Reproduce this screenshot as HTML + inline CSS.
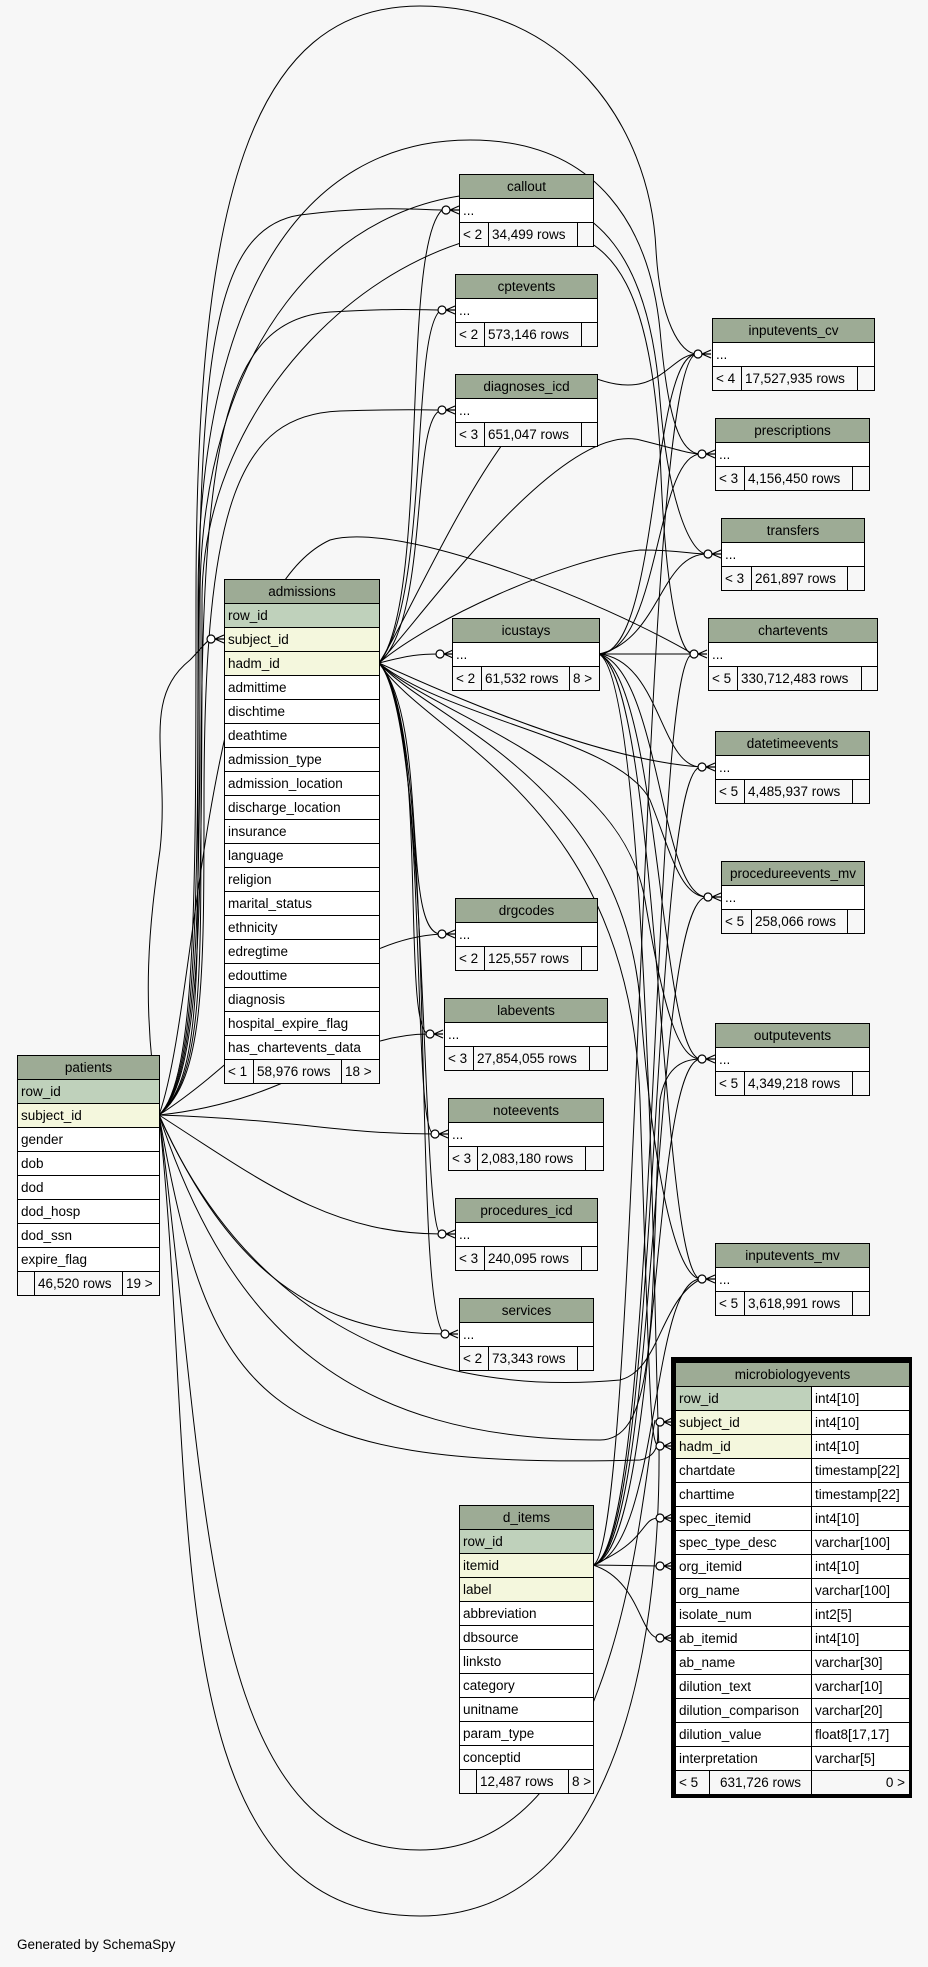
<!DOCTYPE html>
<html><head><meta charset="utf-8">
<style>
body{margin:0;background:#f7f7f7;}
#c{position:relative;width:928px;height:1967px;overflow:hidden;background:#f7f7f7;font-family:"Liberation Sans",sans-serif;font-size:13.5px;color:#000}
svg{position:absolute;left:0;top:0}
.t{position:absolute;background:#fff;border:1px solid #000;border-bottom:none;box-sizing:border-box}
.r{height:23px;line-height:23px;border-bottom:1px solid #000;padding-left:3px;white-space:nowrap;overflow:hidden}
.h{background:#9dab95;text-align:center;padding:0}
.p{background:#bfd1bb}.k{background:#f4f7dd}
.f{display:flex;padding:0;background:#f7f7f7}
.f span{border-right:1px solid #000;padding:0 3px;box-sizing:border-box;overflow:hidden}
.f span:last-child{border-right:none;flex:1}
.m .r{display:flex;padding:0}
.m .r span{padding-left:3px;box-sizing:border-box}
.m .r span:first-child{width:136px;border-right:1px solid #000}
.m .r span:last-child{flex:1}
#g{position:absolute;left:17px;top:1937px;font-size:13.5px}
</style></head><body><div id="c">
<svg width="928" height="1967" fill="none" stroke="#000" stroke-width="1">
<!-- patients -> admissions.subject_id -->
<path d="M159,1115 C140,1000 150,920 160,850 C170,760 140,700 190,660 C200,650 205,642 211,639"/>
<!-- patients -> middle column (via bundle x~200) -->
<path d="M159,1115 C200,1080 198,980 198,800 C198,400 200,230 300,215 C380,205 420,210 442,210"/>
<path d="M159,1115 C202,1080 201,980 201,800 C201,450 220,320 330,312 C400,308 420,310 441,310"/>
<path d="M159,1115 C204,1080 204,980 204,800 C204,500 240,415 340,411 C400,409 420,410 441,410"/>
<path d="M159,1115 C260,1050 330,940 441,934"/>
<path d="M159,1115 C300,1100 340,1034 429,1034"/>
<path d="M159,1115 C300,1120 340,1134 434,1134"/>
<path d="M159,1115 C260,1180 330,1234 441,1234"/>
<path d="M159,1115 C220,1250 300,1334 444,1334"/>
<!-- patients loops over top -->
<path d="M159,1115 C196,1080 196,900 196,600 C196,200 250,6 420,6 C560,6 650,120 656,250 C660,320 680,354 697,354"/>
<path d="M159,1115 C198,1080 198,900 198,600 C198,300 300,140 470,140 C600,140 650,230 660,330 C668,420 680,454 701,454"/>
<path d="M159,1115 C200,1080 200,900 200,600 C200,350 330,193 500,193 C600,193 650,260 660,400 C668,500 690,554 707,554"/>
<path d="M159,1115 C202,1080 202,900 202,600 C202,400 380,230 540,230 C620,230 650,300 660,450 C665,600 680,654 693,654"/>
<!-- patients loops to right lower tables -->
<path d="M159,1115 C240,1300 400,1400 620,1380 C660,1370 660,1300 701,1279"/>
<path d="M159,1115 C230,1330 350,1440 600,1440 C660,1440 650,1300 660,1100 C665,1070 680,1059 701,1059"/>
<path d="M159,1115 C210,1400 260,1470 640,1460 C665,1455 655,1430 659,1422"/>
<path d="M159,1115 C200,1500 150,1916 420,1916 C650,1916 660,1550 659,1446"/>
<path d="M159,1115 C210,1500 200,1850 420,1850 C620,1850 640,1500 655,1420"/>
<path d="M159,1115 C200,1000 200,600 330,540 C400,520 600,600 693,654"/>
<!-- admissions.hadm_id -> middle -->
<path d="M379,663 C430,600 400,250 442,210"/>
<path d="M379,663 C430,600 410,330 441,310"/>
<path d="M379,663 C430,620 410,420 441,410"/>
<path d="M379,663 C410,655 420,654 439,654"/>
<path d="M379,663 C430,720 400,934 441,934"/>
<path d="M379,663 C430,720 400,1034 429,1034"/>
<path d="M379,663 C430,720 410,1134 434,1134"/>
<path d="M379,663 C430,720 420,1234 441,1234"/>
<path d="M379,663 C440,720 410,1300 444,1334"/>
<!-- admissions -> right column -->
<path d="M379,663 C460,700 600,760 701,767"/>
<path d="M379,663 C450,720 620,740 650,800 C670,850 680,897 707,897"/>
<path d="M379,663 C440,720 620,760 645,900 C665,1020 680,1059 701,1059"/>
<path d="M379,663 C430,720 620,780 640,1000 C655,1200 680,1279 701,1279"/>
<path d="M379,663 C420,600 520,350 600,380 C660,400 670,354 697,354"/>
<path d="M379,663 C420,620 560,420 640,440 C680,450 690,454 701,454"/>
<path d="M379,663 C430,620 560,560 640,550 C680,550 690,554 707,554"/>
<path d="M379,663 C430,740 630,800 640,1100 C650,1400 650,1446 659,1446"/>
<!-- icustays -> right -->
<path d="M599,654 C660,654 650,354 697,354"/>
<path d="M599,654 C660,650 655,454 701,454"/>
<path d="M599,654 C660,640 660,554 707,554"/>
<path d="M599,654 L693,654"/>
<path d="M599,654 C660,660 660,767 701,767"/>
<path d="M599,654 C660,670 660,897 707,897"/>
<path d="M599,654 C660,680 660,1059 701,1059"/>
<path d="M599,654 C660,680 660,1279 701,1279"/>
<path d="M599,654 C650,680 655,1400 659,1446"/>
<!-- d_items.itemid -->
<path d="M593,1565 C660,1550 650,654 693,654"/>
<path d="M593,1565 C660,1550 650,767 701,767"/>
<path d="M593,1565 C660,1550 650,897 707,897"/>
<path d="M593,1565 C660,1550 650,1059 701,1059"/>
<path d="M593,1565 C660,1550 650,1279 701,1279"/>
<path d="M593,1565 C640,1550 640,354 697,354"/>
<path d="M593,1565 C650,1540 640,1518 659,1518"/>
<path d="M593,1565 L659,1566"/>
<path d="M593,1565 C640,1580 640,1638 659,1638"/>
</svg>
<svg width="928" height="1967" stroke="#000" stroke-width="1.2">
<g fill="#fff">
<circle cx="446" cy="210" r="4"/><circle cx="442" cy="310" r="4"/><circle cx="442" cy="410" r="4"/>
<circle cx="440" cy="654" r="4"/><circle cx="442" cy="934" r="4"/><circle cx="430" cy="1034" r="4"/>
<circle cx="435" cy="1134" r="4"/><circle cx="442" cy="1234" r="4"/><circle cx="445" cy="1334" r="4"/>
<circle cx="698" cy="354" r="4"/><circle cx="702" cy="454" r="4"/><circle cx="708" cy="554" r="4"/>
<circle cx="694" cy="654" r="4"/><circle cx="702" cy="767" r="4"/><circle cx="708" cy="897" r="4"/>
<circle cx="702" cy="1059" r="4"/><circle cx="702" cy="1279" r="4"/><circle cx="211" cy="639" r="4"/>
<circle cx="660" cy="1422" r="4"/><circle cx="660" cy="1446" r="4"/><circle cx="660" cy="1518" r="4"/>
<circle cx="660" cy="1566" r="4"/><circle cx="660" cy="1638" r="4"/>
</g>
<g fill="none">
<path d="M450,210 L459,206 M450,210 L459,210 M450,210 L459,214"/>
<path d="M446,310 L455,306 M446,310 L455,310 M446,310 L455,314"/>
<path d="M446,410 L455,406 M446,410 L455,410 M446,410 L455,414"/>
<path d="M444,654 L453,650 M444,654 L453,654 M444,654 L453,658"/>
<path d="M446,934 L455,930 M446,934 L455,934 M446,934 L455,938"/>
<path d="M434,1034 L443,1030 M434,1034 L443,1034 M434,1034 L443,1038"/>
<path d="M439,1134 L448,1130 M439,1134 L448,1134 M439,1134 L448,1138"/>
<path d="M446,1234 L455,1230 M446,1234 L455,1234 M446,1234 L455,1238"/>
<path d="M449,1334 L458,1330 M449,1334 L458,1334 M449,1334 L458,1338"/>
<path d="M702,354 L711,350 M702,354 L711,354 M702,354 L711,358"/>
<path d="M706,454 L715,450 M706,454 L715,454 M706,454 L715,458"/>
<path d="M712,554 L721,550 M712,554 L721,554 M712,554 L721,558"/>
<path d="M698,654 L707,650 M698,654 L707,654 M698,654 L707,658"/>
<path d="M706,767 L715,763 M706,767 L715,767 M706,767 L715,771"/>
<path d="M712,897 L721,893 M712,897 L721,897 M712,897 L721,901"/>
<path d="M706,1059 L715,1055 M706,1059 L715,1059 M706,1059 L715,1063"/>
<path d="M706,1279 L715,1275 M706,1279 L715,1279 M706,1279 L715,1283"/>
<path d="M215,639 L224,635 M215,639 L224,639 M215,639 L224,643"/>
<path d="M664,1422 L672,1418 M664,1422 L672,1422 M664,1422 L672,1426"/>
<path d="M664,1446 L672,1442 M664,1446 L672,1446 M664,1446 L672,1450"/>
<path d="M664,1518 L672,1514 M664,1518 L672,1518 M664,1518 L672,1522"/>
<path d="M664,1566 L672,1562 M664,1566 L672,1566 M664,1566 L672,1570"/>
<path d="M664,1638 L672,1634 M664,1638 L672,1638 M664,1638 L672,1642"/>
</g>
</svg>

<!-- admissions -->
<div class="t" style="left:224px;top:579px;width:156px">
<div class="r h">admissions</div><div class="r p">row_id</div><div class="r k">subject_id</div><div class="r k">hadm_id</div>
<div class="r">admittime</div><div class="r">dischtime</div><div class="r">deathtime</div><div class="r">admission_type</div><div class="r">admission_location</div><div class="r">discharge_location</div><div class="r">insurance</div><div class="r">language</div><div class="r">religion</div><div class="r">marital_status</div><div class="r">ethnicity</div><div class="r">edregtime</div><div class="r">edouttime</div><div class="r">diagnosis</div><div class="r">hospital_expire_flag</div><div class="r">has_chartevents_data</div>
<div class="r f"><span style="width:29px">&lt; 1</span><span style="width:88px">58,976 rows</span><span>18 &gt;</span></div>
</div>
<!-- patients -->
<div class="t" style="left:17px;top:1055px;width:143px">
<div class="r h">patients</div><div class="r p">row_id</div><div class="r k">subject_id</div><div class="r">gender</div><div class="r">dob</div><div class="r">dod</div><div class="r">dod_hosp</div><div class="r">dod_ssn</div><div class="r">expire_flag</div>
<div class="r f"><span style="width:17px"></span><span style="width:88px">46,520 rows</span><span>19 &gt;</span></div>
</div>
<!-- d_items -->
<div class="t" style="left:459px;top:1505px;width:135px">
<div class="r h">d_items</div><div class="r p">row_id</div><div class="r k">itemid</div><div class="r k">label</div><div class="r">abbreviation</div><div class="r">dbsource</div><div class="r">linksto</div><div class="r">category</div><div class="r">unitname</div><div class="r">param_type</div><div class="r">conceptid</div>
<div class="r f"><span style="width:17px"></span><span style="width:92px">12,487 rows</span><span>8 &gt;</span></div>
</div>
<!-- small tables -->
<div class="t" style="left:459px;top:174px;width:135px"><div class="r h">callout</div><div class="r">...</div><div class="r f"><span style="width:29px">&lt; 2</span><span style="width:89px">34,499 rows</span><span></span></div></div>
<div class="t" style="left:455px;top:274px;width:143px"><div class="r h">cptevents</div><div class="r">...</div><div class="r f"><span style="width:29px">&lt; 2</span><span style="width:97px">573,146 rows</span><span></span></div></div>
<div class="t" style="left:455px;top:374px;width:143px"><div class="r h">diagnoses_icd</div><div class="r">...</div><div class="r f"><span style="width:29px">&lt; 3</span><span style="width:97px">651,047 rows</span><span></span></div></div>
<div class="t" style="left:452px;top:618px;width:148px"><div class="r h">icustays</div><div class="r">...</div><div class="r f"><span style="width:29px">&lt; 2</span><span style="width:88px">61,532 rows</span><span>8 &gt;</span></div></div>
<div class="t" style="left:455px;top:898px;width:143px"><div class="r h">drgcodes</div><div class="r">...</div><div class="r f"><span style="width:29px">&lt; 2</span><span style="width:97px">125,557 rows</span><span></span></div></div>
<div class="t" style="left:444px;top:998px;width:164px"><div class="r h">labevents</div><div class="r">...</div><div class="r f"><span style="width:29px">&lt; 3</span><span style="width:116px">27,854,055 rows</span><span></span></div></div>
<div class="t" style="left:448px;top:1098px;width:156px"><div class="r h">noteevents</div><div class="r">...</div><div class="r f"><span style="width:29px">&lt; 3</span><span style="width:108px">2,083,180 rows</span><span></span></div></div>
<div class="t" style="left:455px;top:1198px;width:143px"><div class="r h">procedures_icd</div><div class="r">...</div><div class="r f"><span style="width:29px">&lt; 3</span><span style="width:97px">240,095 rows</span><span></span></div></div>
<div class="t" style="left:459px;top:1298px;width:135px"><div class="r h">services</div><div class="r">...</div><div class="r f"><span style="width:29px">&lt; 2</span><span style="width:89px">73,343 rows</span><span></span></div></div>
<div class="t" style="left:712px;top:318px;width:163px"><div class="r h">inputevents_cv</div><div class="r">...</div><div class="r f"><span style="width:29px">&lt; 4</span><span style="width:116px">17,527,935 rows</span><span></span></div></div>
<div class="t" style="left:715px;top:418px;width:155px"><div class="r h">prescriptions</div><div class="r">...</div><div class="r f"><span style="width:29px">&lt; 3</span><span style="width:108px">4,156,450 rows</span><span></span></div></div>
<div class="t" style="left:721px;top:518px;width:144px"><div class="r h">transfers</div><div class="r">...</div><div class="r f"><span style="width:30px">&lt; 3</span><span style="width:96px">261,897 rows</span><span></span></div></div>
<div class="t" style="left:708px;top:618px;width:170px"><div class="r h">chartevents</div><div class="r">...</div><div class="r f"><span style="width:29px">&lt; 5</span><span style="width:124px">330,712,483 rows</span><span></span></div></div>
<div class="t" style="left:715px;top:731px;width:155px"><div class="r h">datetimeevents</div><div class="r">...</div><div class="r f"><span style="width:29px">&lt; 5</span><span style="width:108px">4,485,937 rows</span><span></span></div></div>
<div class="t" style="left:721px;top:861px;width:144px"><div class="r h">procedureevents_mv</div><div class="r">...</div><div class="r f"><span style="width:30px">&lt; 5</span><span style="width:96px">258,066 rows</span><span></span></div></div>
<div class="t" style="left:715px;top:1023px;width:155px"><div class="r h">outputevents</div><div class="r">...</div><div class="r f"><span style="width:29px">&lt; 5</span><span style="width:108px">4,349,218 rows</span><span></span></div></div>
<div class="t" style="left:715px;top:1243px;width:155px"><div class="r h">inputevents_mv</div><div class="r">...</div><div class="r f"><span style="width:29px">&lt; 5</span><span style="width:108px">3,618,991 rows</span><span></span></div></div>
<!-- microbiologyevents -->
<div style="position:absolute;left:671px;top:1357px;width:241px;height:441px;background:#000"></div>
<div class="t m" style="left:675px;top:1362px;width:235px">
<div class="r h" style="display:block">microbiologyevents</div>
<div class="r"><span class="p">row_id</span><span>int4[10]</span></div>
<div class="r"><span class="k">subject_id</span><span>int4[10]</span></div>
<div class="r"><span class="k">hadm_id</span><span>int4[10]</span></div>
<div class="r"><span>chartdate</span><span>timestamp[22]</span></div>
<div class="r"><span>charttime</span><span>timestamp[22]</span></div>
<div class="r"><span>spec_itemid</span><span>int4[10]</span></div>
<div class="r"><span>spec_type_desc</span><span>varchar[100]</span></div>
<div class="r"><span>org_itemid</span><span>int4[10]</span></div>
<div class="r"><span>org_name</span><span>varchar[100]</span></div>
<div class="r"><span>isolate_num</span><span>int2[5]</span></div>
<div class="r"><span>ab_itemid</span><span>int4[10]</span></div>
<div class="r"><span>ab_name</span><span>varchar[30]</span></div>
<div class="r"><span>dilution_text</span><span>varchar[10]</span></div>
<div class="r"><span>dilution_comparison</span><span>varchar[20]</span></div>
<div class="r"><span>dilution_value</span><span>float8[17,17]</span></div>
<div class="r"><span>interpretation</span><span>varchar[5]</span></div>
<div class="r f" style="background:#f7f7f7"><span style="width:34px;flex:none">&lt; 5</span><span style="width:102px;flex:none;text-align:center">631,726 rows</span><span style="text-align:right;padding-right:4px">0 &gt;</span></div>
</div>
<div id="g">Generated by SchemaSpy</div>
</div></body></html>
